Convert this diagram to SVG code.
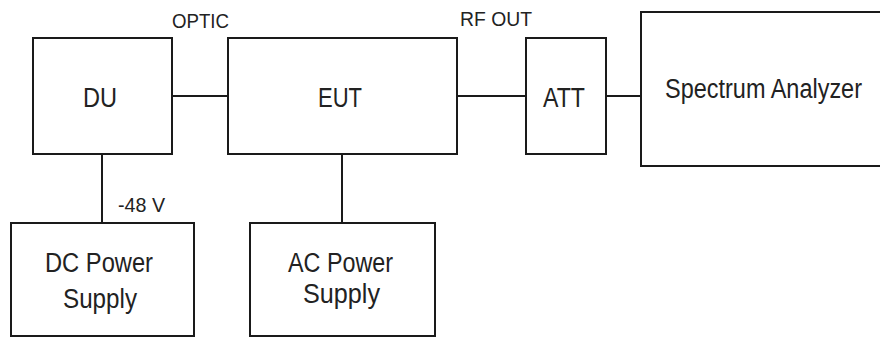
<svg xmlns="http://www.w3.org/2000/svg" width="880" height="338" viewBox="0 0 880 338">
<style>
.box{fill:#fff;stroke:#1a1a1a;stroke-width:2}
.ln{stroke:#1a1a1a;stroke-width:2;fill:none}
.t{font-family:"Liberation Sans",Arial,sans-serif;font-size:27px;fill:#222;text-anchor:middle}
.s{font-family:"Liberation Sans",Arial,sans-serif;font-size:21px;fill:#222;text-anchor:middle}
</style>
<rect width="880" height="338" fill="#fff"/>
<g id="connectors">
<line class="ln" x1="172" y1="96" x2="228" y2="96"/>
<line class="ln" x1="457" y1="96" x2="526" y2="96"/>
<line class="ln" x1="606" y1="96" x2="641" y2="96"/>
<line class="ln" x1="102" y1="154" x2="102" y2="223"/>
<line class="ln" x1="342" y1="154" x2="342" y2="223"/>
<text class="s" x="200.5" y="28" textLength="57" lengthAdjust="spacingAndGlyphs">OPTIC</text>
<text class="s" x="496" y="26" textLength="72" lengthAdjust="spacingAndGlyphs">RF OUT</text>
<text class="s" x="141.5" y="212" textLength="47" lengthAdjust="spacingAndGlyphs">-48 V</text>
</g>
<g id="DU">
<rect class="box" x="33" y="38" width="139" height="116"/>
<text class="t" x="100" y="107" textLength="34" lengthAdjust="spacingAndGlyphs">DU</text>
</g>
<g id="EUT">
<rect class="box" x="228" y="38" width="229" height="116"/>
<text class="t" x="340" y="107" textLength="44" lengthAdjust="spacingAndGlyphs">EUT</text>
</g>
<g id="ATT">
<rect class="box" x="526" y="38" width="80" height="116"/>
<text class="t" x="564" y="107" textLength="42" lengthAdjust="spacingAndGlyphs">ATT</text>
</g>
<g id="SpectrumAnalyzer">
<rect class="box" x="641" y="12" width="250" height="154"/>
<text class="t" x="763.5" y="98" textLength="197" lengthAdjust="spacingAndGlyphs">Spectrum Analyzer</text>
</g>
<g id="DCPowerSupply">
<rect class="box" x="11" y="223" width="183" height="113"/>
<text class="t" x="99" y="272" textLength="108" lengthAdjust="spacingAndGlyphs">DC Power</text>
<text class="t" x="100" y="308" textLength="74" lengthAdjust="spacingAndGlyphs">Supply</text>
</g>
<g id="ACPowerSupply">
<rect class="box" x="250" y="223" width="185" height="113"/>
<text class="t" x="340.5" y="272" textLength="105" lengthAdjust="spacingAndGlyphs">AC Power</text>
<text class="t" x="341.5" y="303" textLength="77" lengthAdjust="spacingAndGlyphs">Supply</text>
</g>
</svg>
